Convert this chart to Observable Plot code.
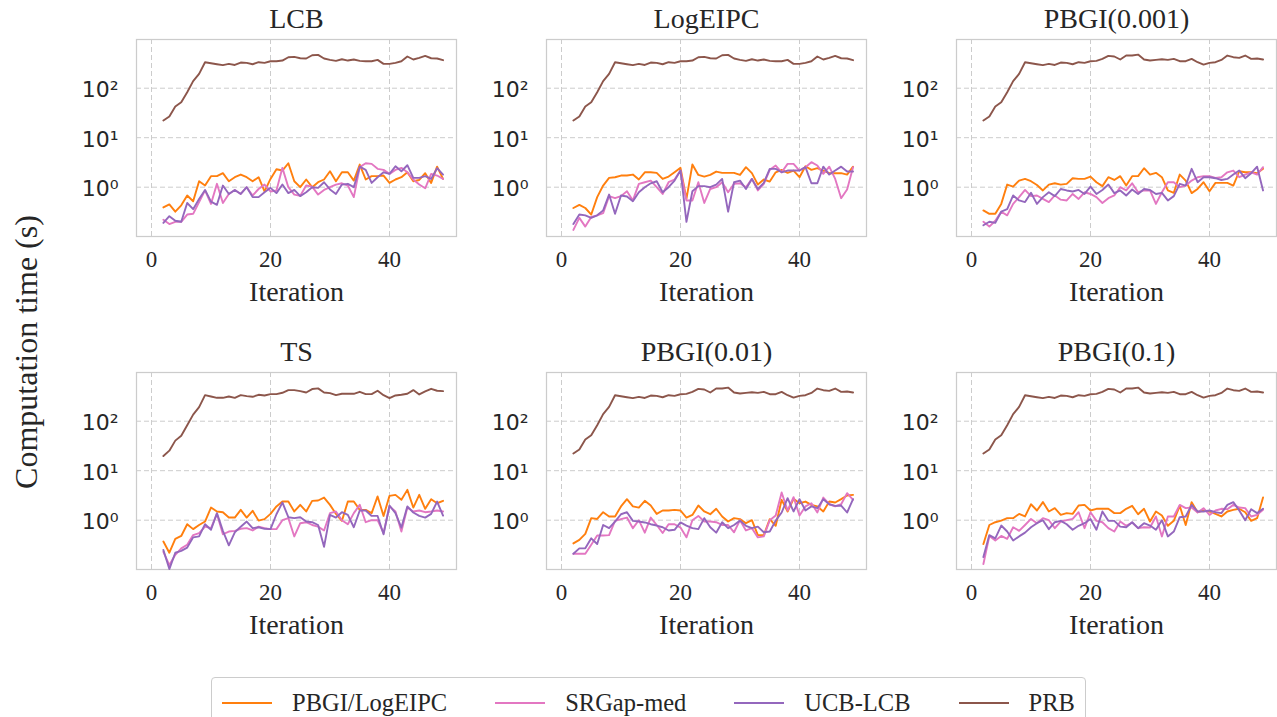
<!DOCTYPE html>
<html>
<head>
<meta charset="utf-8">
<script src="https://cdn.jsdelivr.net/npm/d3@7"></script>
<script src="https://cdn.jsdelivr.net/npm/@observablehq/plot@0.6"></script>
<style>
  html, body { margin: 0; padding: 0; background: #ffffff; overflow: hidden; }
  #root { position: relative; width: 1277px; height: 717px; }
  .panel { position: absolute; }
  #legend {
    position: absolute; left: 211px; top: 677px; height: 52px;
    border: 1px solid #cccccc; border-radius: 4px; background: #fff;
    display: flex; align-items: center; padding: 0 10px 0 10px; box-sizing: border-box;
    font-family: "Liberation Serif", "Times New Roman", serif; font-size: 24.5px; color: #262626;
  }
  #legend .item { display: flex; align-items: center; margin-right: 48px; height: 38px; }
  #legend .item:last-child { margin-right: 0; }
  #legend .sw { width: 50px; height: 0; border-top: 2px solid; margin-right: 20px; }
</style>
</head>
<body>
<div id="root"></div>
<script>
// ---------------- data ----------------
const iterations = d3.range(2, 50); // 2..49
const methods = ["PBGI/LogEIPC", "SRGap-med", "UCB-LCB", "PRB"];
const colors = ["#ff7f0e", "#e377c2", "#9467bd", "#8c564b"];
const panelTitles = ["LCB", "LogEIPC", "PBGI(0.001)", "TS", "PBGI(0.01)", "PBGI(0.1)"];
const xTicks = [0, 20, 40];
const yTicks = [1, 10, 100];
const yTickLabels = ["10\u2070", "10\u00b9", "10\u00b2"];

// LCB
const lcbPBGI = [0.39,0.45,0.32,0.43,0.68,0.52,1.32,1.08,1.67,1.67, 1.92,1.32,1.59,1.8,1.59,1.32,1.59,0.82,1.47,2.3, 2.17,3.05,1.32,1.0,1.43,1.0,1.26,1.43,2.1,1.32, 2.0,2.0,1.36,2.87,1.43,1.67,1.67,1.72,1.22,1.43, 1.59,2.0,1.32,1.4,1.92,1.22,2.6,1.47];
const lcbSRGap = [0.22,0.18,0.2,0.2,0.28,0.29,0.5,0.86,0.46,1.17, 0.48,0.73,0.88,0.73,1.0,0.68,0.92,1.13,0.82,0.86, 2.46,1.0,0.71,0.67,1.08,1.03,0.71,0.88,1.0,1.13, 1.2,1.08,0.63,2.54,3.05,2.96,2.35,2.24,1.86,2.24, 2.46,2.0,1.43,1.13,0.95,1.86,1.72,1.47];
const lcbUCB = [0.19,0.26,0.21,0.2,0.48,0.36,0.58,0.88,0.51,0.44, 1.08,0.73,0.88,0.73,1.0,0.63,0.63,0.79,0.97,0.76, 1.13,0.76,0.88,0.66,0.79,1.0,0.97,1.26,0.9,0.73, 1.13,1.17,1.0,2.6,2.24,1.22,1.59,2.0,1.86,2.65, 2.1,2.78,1.54,1.54,1.67,1.47,2.42,1.8];
const lcbPRB = [22.2,26.8,42.6,52,83,139,195,335,320,305, 292,310,295,330,325,305,335,325,350,350, 362,423,430,403,398,464,471,398,373,356, 385,362,380,356,350,350,373,310,310,325, 350,437,380,410,450,403,398,368];

// LogEIPC
const logeipcPBGI = [0.38,0.44,0.38,0.28,0.63,1.08,1.54,1.59,1.72,1.72, 1.8,1.43,2.0,2.0,1.95,1.47,1.64,2.0,2.46,0.58, 2.87,1.77,1.64,1.77,2.07,1.95,1.95,1.95,1.77,2.54, 1.92,1.13,1.43,1.3,2.0,2.24,1.95,2.17,1.59,2.65, 2.24,2.42,2.17,1.92,1.92,1.92,1.8,2.6];
const logeipcSRGap = [0.137,0.24,0.16,0.25,0.27,0.3,0.66,0.6,0.66,0.83, 0.54,1.17,1.26,1.36,1.0,0.73,1.26,1.43,2.17,0.54, 0.54,1.26,0.48,0.92,1.0,1.26,0.79,1.17,1.2,1.0, 1.47,0.86,1.17,2.24,2.74,2.0,2.96,2.96,2.17,2.54, 3.2,2.74,1.86,2.6,1.47,0.6,0.9,2.54];
const logeipcUCB = [0.18,0.28,0.27,0.24,0.27,0.34,0.71,0.29,0.68,0.65, 0.52,0.79,1.0,1.2,1.32,0.79,1.0,1.36,2.17,0.2, 0.83,1.05,1.05,1.0,1.13,1.47,0.32,1.26,1.36,0.92, 1.47,0.92,1.22,2.35,2.35,2.0,2.17,2.17,2.17,2.54, 1.2,1.2,2.6,1.8,2.17,2.6,2.07,2.07];
const logeipcPRB = [22.2,26.8,42.6,52,83,139,195,335,320,305, 292,310,295,330,325,305,335,325,350,350, 362,423,430,403,398,464,471,398,373,356, 385,362,380,356,350,350,373,310,310,325, 350,437,380,410,450,403,398,368];

// PBGI(0.001)
const pbgi001PBGI = [0.34,0.29,0.29,0.46,1.13,1.03,1.36,1.47,1.32,1.11, 0.86,1.13,1.2,1.13,1.17,1.52,1.47,1.47,1.64,1.26, 1.05,1.59,1.4,1.67,1.08,1.67,1.67,2.42,1.8,1.95, 1.59,0.86,0.77,1.8,1.36,0.76,0.92,1.26,0.83,1.22, 1.22,1.22,1.08,2.1,2.0,2.0,1.92,2.35];
const pbgi001SRGap = [0.2,0.16,0.21,0.32,0.27,0.46,0.63,0.88,0.66,0.68, 0.58,0.5,0.68,0.56,0.54,0.73,0.58,0.79,0.73,0.63, 0.48,0.6,0.68,1.0,0.86,1.2,0.79,0.86,0.86,0.46, 0.79,1.26,1.26,1.0,1.08,1.36,1.59,1.67,1.67,1.54, 1.59,2.0,2.17,1.59,1.8,2.0,1.8,2.54];
const pbgi001UCB = [0.17,0.2,0.19,0.32,0.36,0.68,0.54,0.5,0.77,0.46, 0.63,0.79,0.66,0.92,0.86,0.82,0.88,0.73,1.03,0.73, 0.88,1.13,0.76,0.86,0.68,0.9,0.73,0.92,0.88,0.73, 0.77,0.54,0.66,1.17,1.08,2.35,1.26,1.59,1.59,1.52, 1.4,1.47,1.8,2.17,1.52,1.92,2.6,0.86];
const pbgi001PRB = [22.2,26.8,42.6,52,83,139,195,335,320,305, 292,310,295,330,325,305,335,325,350,356, 392,450,437,380,457,457,478,380,362,373, 385,373,392,351,351,392,335,300,325,335, 373,457,423,410,457,392,398,380];

// TS
const tsPBGI = [0.37,0.22,0.42,0.48,0.83,0.66,0.8,0.94,1.8,1.5, 1.45,1.13,1.13,1.62,1.13,1.55,0.98,1.05,1.34,1.9, 2.38,2.38,1.5,2.04,1.5,2.46,2.5,2.87,2.04,1.34, 0.97,2.38,2.38,1.62,1.62,1.39,3.02,1.22,3.1,3.25, 2.58,4.1,1.8,3.25,1.7,2.66,2.2,2.46];
const tsSRGap = [0.23,0.124,0.2,0.27,0.32,0.5,0.55,0.74,0.69,1.34, 0.52,0.59,0.61,0.67,0.69,0.62,0.74,0.69,0.66,0.66, 1.0,1.1,0.47,0.87,0.91,0.8,0.74,0.62,1.39,1.5, 1.0,0.83,1.39,2.04,0.91,1.0,1.0,0.55,1.9,1.5, 0.59,1.8,1.5,1.57,1.45,1.5,1.57,1.5];
const tsUCB = [0.25,0.103,0.22,0.24,0.28,0.45,0.47,0.83,0.64,1.39, 0.61,0.31,0.57,0.74,0.94,0.69,0.72,0.67,0.66,1.32, 2.28,1.15,1.1,1.15,0.94,0.91,0.8,0.29,1.28,1.13, 1.45,1.28,0.72,1.57,1.57,1.22,1.22,0.52,1.98,1.39, 0.71,1.9,1.43,1.22,1.13,1.34,2.38,1.24];
const tsPRB = [19.8,25.4,40.5,51,83,136,192,336,316,297, 297,316,297,336,321,311,342,331,352,352, 375,425,425,406,381,446,460,381,369,336, 358,358,358,393,352,352,412,336,292,331, 342,358,425,347,399,452,412,406];

// PBGI(0.01)
const pbgi01PBGI = [0.34,0.4,0.53,1.1,1.06,1.45,1.19,1.19,1.9,2.66, 1.9,1.8,2.46,1.98,1.34,1.57,1.57,1.62,1.57,1.13, 1.28,1.98,1.5,1.32,1.7,1.19,0.94,1.1,1.05,0.87, 1.0,0.5,0.5,1.05,0.77,2.58,1.5,2.7,2.2,2.38, 2.04,1.9,1.5,2.38,2.28,2.66,3.15,3.25];
const pbgi01SRGap = [0.21,0.21,0.21,0.32,0.49,0.49,0.5,0.97,1.05,1.13, 0.69,1.0,0.56,1.13,0.8,0.55,0.83,0.83,0.71,0.45, 1.0,1.22,0.94,0.94,0.91,0.8,0.8,0.57,1.0,0.62, 0.69,0.45,0.47,1.0,1.24,3.64,1.57,2.92,1.24,1.9, 2.2,1.43,2.87,2.1,1.9,2.1,3.52,2.58];
const pbgi01UCB = [0.21,0.27,0.27,0.43,0.33,0.8,0.69,0.94,1.32,1.45, 0.97,0.94,0.9,0.83,0.78,0.72,0.62,0.64,0.9,0.78, 0.69,0.66,1.1,0.72,0.56,0.91,0.69,0.8,0.98,0.77, 0.69,0.74,0.57,0.59,0.98,1.43,2.79,1.5,2.66,1.57, 1.9,1.75,2.66,2.1,1.95,1.98,1.43,2.66];
const pbgi01PRB = [22.2,26.8,42.6,52,83,139,195,335,320,305, 292,310,295,330,325,305,335,325,350,356, 392,450,437,380,457,457,478,380,362,373, 385,373,392,351,351,392,335,300,325,335, 373,457,423,410,457,392,398,380];

// PBGI(0.1)
const pbgi1PBGI = [0.33,0.8,0.91,0.98,1.1,1.1,1.34,1.19,2.1,1.57, 2.32,1.5,1.75,1.28,1.39,1.34,1.98,2.04,1.57,1.7, 1.7,1.7,1.39,1.39,1.7,1.95,1.32,1.7,0.94,1.5, 1.24,0.77,0.97,1.95,0.8,2.32,1.45,1.57,1.5,1.34, 1.19,1.5,1.62,1.7,1.45,0.97,1.1,2.87];
const pbgi1SRGap = [0.13,0.48,0.39,0.48,0.42,0.72,0.61,0.8,1.06,0.87, 1.1,1.0,0.69,0.94,1.0,1.06,1.45,0.69,1.45,0.97, 0.91,0.69,0.59,0.94,0.77,0.9,0.69,0.72,0.71,1.19, 0.47,1.19,1.19,2.04,1.75,1.8,1.43,1.75,1.28,1.57, 1.7,1.67,2.04,1.8,1.75,1.19,1.28,1.62];
const pbgi1UCB = [0.18,0.5,0.43,0.78,0.59,0.39,0.47,0.56,0.72,0.87, 1.0,0.66,0.91,0.97,0.83,0.64,0.77,0.87,1.06,0.64, 1.5,0.97,0.97,0.74,0.72,0.91,0.69,0.87,0.78,0.64, 1.0,0.47,0.59,1.15,1.19,2.04,1.5,1.5,1.57,1.45, 1.39,2.04,2.32,1.57,1.0,1.67,1.39,1.7];
const pbgi1PRB = [22.2,26.8,42.6,52,83,139,195,335,320,305, 292,310,295,330,325,305,335,325,350,356, 392,450,437,380,457,457,478,380,362,373, 385,373,392,351,351,392,335,300,325,335, 373,457,423,410,457,392,398,380];

const panelSeries = [
  [lcbPBGI, lcbSRGap, lcbUCB, lcbPRB],
  [logeipcPBGI, logeipcSRGap, logeipcUCB, logeipcPRB],
  [pbgi001PBGI, pbgi001SRGap, pbgi001UCB, pbgi001PRB],
  [tsPBGI, tsSRGap, tsUCB, tsPRB],
  [pbgi01PBGI, pbgi01SRGap, pbgi01UCB, pbgi01PRB],
  [pbgi1PBGI, pbgi1SRGap, pbgi1UCB, pbgi1PRB]
];

// ---------------- layout ----------------
const SERIF = "Liberation Serif";
const SANS = "DejaVu Sans";
const TEXT = "#262626";
const ML = 76, MT = 39, MR = 1, MB = 75, IW = 320, IH = 197;
const colLeft = [136, 546, 956];
const rowTop = [39, 372];

const root = document.getElementById("root");

function panel(title, series) {
  const data = [];
  series.forEach((arr, k) => arr.forEach((v, i) => data.push({iteration: iterations[i], time: v, method: methods[k]})));
  return Plot.plot({
    width: ML + IW + MR, height: MT + IH + MB,
    marginLeft: ML, marginTop: MT, marginRight: MR, marginBottom: MB,
    style: {background: "transparent", overflow: "visible", fontFamily: SERIF},
    x: {domain: [-2.52, 51.26], axis: null},
    y: {type: "log", domain: [0.1009, 964], axis: null},
    color: {domain: methods, range: colors},
    marks: [
      Plot.gridX({ticks: xTicks, stroke: "#cccccc", strokeOpacity: 1, strokeWidth: 1, strokeDasharray: "5,3"}),
      Plot.gridY({ticks: yTicks, stroke: "#cccccc", strokeOpacity: 1, strokeWidth: 1, strokeDasharray: "5,3"}),
      Plot.frame({stroke: "#cccccc", strokeWidth: 1.25}),
      Plot.line(data, {x: "iteration", y: "time", z: "method", stroke: "method", strokeWidth: 1.9, strokeLinejoin: "round"}),
      // x tick labels
      Plot.text(xTicks, {x: d => d, text: d => String(d), frameAnchor: "bottom", lineAnchor: "top", dy: 14,
        fontSize: 23, fontFamily: SERIF, fill: TEXT}),
      // y tick labels
      Plot.text(yTicks, {y: d => d, text: (d, i) => yTickLabels[i], frameAnchor: "left", textAnchor: "end", dx: -18, dy: 2,
        fontSize: 22, fontFamily: SANS, fill: TEXT}),
      Plot.text([title], {text: d => d, frameAnchor: "top", lineAnchor: "bottom", dy: -12, fontSize: 28, fontFamily: SERIF, fill: TEXT}),
      Plot.text(["Iteration"], {text: d => d, frameAnchor: "bottom", lineAnchor: "bottom", dy: 64.5, fontSize: 28, fontFamily: SERIF, fill: TEXT})
    ]
  });
}

panelTitles.forEach((t, i) => {
  const r = Math.floor(i / 3), c = i % 3;
  const div = document.createElement("div");
  div.className = "panel";
  div.style.left = (colLeft[c] - ML) + "px";
  div.style.top = (rowTop[r] - MT) + "px";
  div.appendChild(panel(t, panelSeries[i]));
  root.appendChild(div);
});

// y label
const ylab = d3.select(root).append("svg")
  .attr("width", 70).attr("height", 717)
  .style("position", "absolute").style("left", "0px").style("top", "0px");
ylab.append("text")
  .attr("transform", "translate(37,352) rotate(-90)")
  .attr("text-anchor", "middle")
  .attr("font-family", SERIF).attr("font-size", 32).attr("fill", TEXT)
  .text("Computation time (s)");

// legend
const legend = document.createElement("div");
legend.id = "legend";
methods.forEach((m, k) => {
  const item = document.createElement("div");
  item.className = "item";
  const sw = document.createElement("div");
  sw.className = "sw";
  sw.style.borderTopColor = colors[k];
  const lab = document.createElement("span");
  lab.textContent = m;
  item.appendChild(sw); item.appendChild(lab);
  legend.appendChild(item);
});
root.appendChild(legend);
</script>
</body>
</html>
